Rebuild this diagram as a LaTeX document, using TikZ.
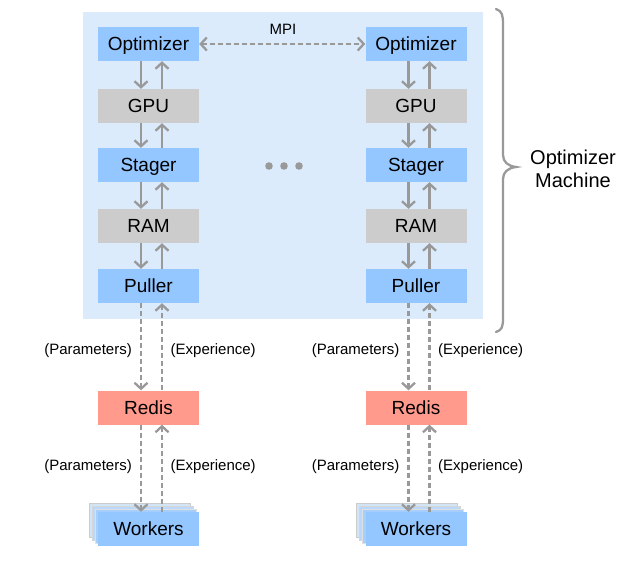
\documentclass[tikz,border=0pt]{standalone}
\usepackage{fontspec}
\setmainfont{Liberation Sans}
\usetikzlibrary{arrows.meta,calc}
\definecolor{boxblue}{HTML}{94C6FF}
\definecolor{boxgray}{HTML}{CCCCCC}
\definecolor{boxred}{HTML}{FF9A8C}
\definecolor{bgblue}{HTML}{DBEBFC}
\definecolor{arrgray}{HTML}{999999}
\definecolor{shadeA}{HTML}{D3E4F5}
\definecolor{shadeB}{HTML}{B9D8FB}
\definecolor{shadeC}{HTML}{A6CEFD}
\tikzset{
  comp/.style={minimum width=101pt,minimum height=34pt,inner sep=0pt,text height=13.6pt,text depth=0pt,font=\fontsize{19}{22}\selectfont},
  bluebox/.style={comp,fill=boxblue},
  graybox/.style={comp,fill=boxgray},
  redbox/.style={comp,fill=boxred},
  arr/.style={draw=arrgray,line width=2.3pt,-{Straight Barb[length=6pt,width=13pt]}},
  darr/.style={arr,dash pattern=on 5pt off 3pt},
  lbl/.style={font=\fontsize{15}{18}\selectfont,inner sep=0pt},
}
\begin{document}
\begin{tikzpicture}[x=1pt,y=-1pt]
\useasboundingbox (0,0) rectangle (627,566);
\fill[bgblue] (83,12) rectangle (483,319);
% columns
\foreach \c/\x in {1/148.5,2/416}{
  \node[bluebox] (opt\c) at (\x,44) {Optimizer};
  \node[graybox] (gpu\c) at (\x,106) {GPU};
  \node[bluebox] (stg\c) at (\x,165) {Stager};
  \node[graybox] (ram\c) at (\x,226) {RAM};
  \node[bluebox] (pul\c) at (\x,286) {Puller};
  \node[redbox] (red\c) at (\x,407.5) {Redis};
  \fill[shadeA,draw=arrgray!50,line width=0.6pt] (\x-59.5,503) rectangle ++(101,34);
  \fill[shadeB,draw=arrgray!40,line width=0.6pt] (\x-56.5,506) rectangle ++(101,34);
  \fill[shadeC,draw=arrgray!30,line width=0.6pt] (\x-53.5,509) rectangle ++(101,34);
  \node[bluebox] (wrk\c) at (\x,529) {Workers};
  \foreach \a/\b in {opt/gpu,gpu/stg,stg/ram,ram/pul}{
    \draw[arr] ([xshift=-7.5pt]\a\c.south) -- ([xshift=-7.5pt]\b\c.north);
    \draw[arr] ([xshift=13.5pt]\b\c.north) -- ([xshift=13.5pt]\a\c.south);
  }
  \foreach \a/\b/\y in {pul/red/351,red/wrk/467}{
    \draw[darr] ([xshift=-7.5pt]\a\c.south) -- ([xshift=-7.5pt]\b\c.north);
    \draw[darr] ([xshift=13.5pt]\b\c.north) -- ([xshift=13.5pt]\a\c.south);
    \node[lbl,anchor=east] (lp\a\c) at (\x-16.5,\y) {(Parameters)};
    \node[lbl,anchor=west] (le\a\c) at (\x+22,\y) {(Experience)};
  }
}
% MPI
\draw[darr,{Straight Barb[length=6pt,width=13pt]}-{Straight Barb[length=6pt,width=13pt]}] (opt1.east) -- (opt2.west);
\node[lbl] (mpi) at (283,29) {MPI};
% dots
\foreach \dx in {269,284,299} \fill[arrgray] (\dx,166) circle (3.8);
% brace
\draw[arrgray,line width=2.3pt,line cap=round]
  (496,9) .. controls (502,11) and (503,15) .. (503,24)
  -- (503,155) .. controls (503,162) and (508,166) .. (516,167)
  .. controls (508,168) and (503,172) .. (503,179)
  -- (503,318) .. controls (503,327) and (502,330) .. (496,332);
\node[font=\fontsize{20}{23}\selectfont,align=center,inner sep=0pt] (om) at (573,168.5) {Optimizer\\Machine};
\end{tikzpicture}
\end{document}
